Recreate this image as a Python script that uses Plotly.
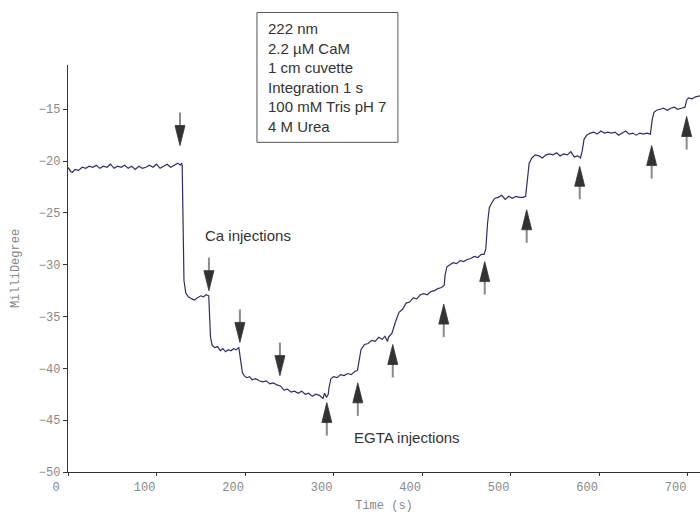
import plotly.graph_objects as go

# ---- data ----
time_s = [0, 3, 5, 8, 12, 16, 20, 24, 28, 32, 36, 40, 44, 48, 52, 56, 60, 64, 68, 72, 76, 80, 84, 88, 92, 96,
          100, 104, 108, 112, 116, 120, 124, 127, 128.5, 129, 130, 131, 133, 136, 140, 143, 146, 150, 153, 156,
          159, 160, 161, 163, 166, 169, 172, 175, 178, 181, 184, 187, 190, 193, 195, 197, 199, 202, 205, 208,
          212, 216, 220, 224, 228, 232, 236, 240, 244, 248, 252, 256, 260, 264, 268, 272, 276, 280, 284, 288,
          290, 292, 294, 295, 297, 300, 304, 308, 312, 316, 320, 324, 327, 329, 331, 335, 339, 343, 347, 351,
          355, 358, 361, 362, 364, 366, 370, 374, 378, 382, 386, 390, 394, 398, 402, 406, 410, 414, 418, 422,
          425, 426, 428, 431, 435, 439, 443, 447, 451, 455, 459, 463, 467, 470, 472, 474, 476, 479, 482, 486,
          490, 494, 498, 502, 506, 510, 514, 517, 519, 521, 524, 528, 532, 536, 540, 544, 548, 552, 556, 560,
          564, 568, 572, 576, 579, 581, 583, 586, 590, 594, 598, 602, 606, 610, 614, 618, 622, 626, 630, 634,
          638, 642, 646, 650, 654, 658, 660, 662, 665, 669, 673, 677, 681, 685, 689, 693, 697, 699, 701, 705,
          709, 714]
millideg = [-20.6, -21.0, -21.1, -20.8, -20.9, -20.6, -20.7, -20.5, -20.6, -20.4, -20.7, -20.5, -20.6, -20.3,
            -20.7, -20.5, -20.6, -20.4, -20.7, -20.5, -20.8, -20.5, -20.7, -20.6, -20.4, -20.6, -20.3, -20.7,
            -20.5, -20.3, -20.6, -20.4, -20.2, -20.4, -20.2, -20.4, -26.0, -31.5, -32.7, -33.1, -33.3, -33.4,
            -33.2, -33.0, -33.1, -32.9, -33.0, -35.0, -37.0, -37.8, -38.0, -37.9, -38.3, -38.1, -38.4, -38.2,
            -38.3, -38.1, -38.2, -38.0, -39.5, -40.4, -40.7, -40.9, -40.8, -41.1, -41.0, -41.2, -41.3, -41.2,
            -41.5, -41.4, -41.6, -41.7, -42.1, -42.0, -42.3, -42.2, -42.4, -42.2, -42.5, -42.4, -42.7, -42.5,
            -42.6, -42.9, -42.4, -42.8, -42.5, -41.8, -41.0, -40.8, -40.9, -40.6, -40.7, -40.5, -40.6, -40.3,
            -40.2, -39.0, -38.2, -37.7, -37.6, -37.3, -37.4, -37.0, -37.2, -36.9, -37.4, -37.0, -36.8, -36.6,
            -35.5, -34.6, -34.3, -33.7, -33.6, -33.2, -33.3, -32.9, -32.8, -32.9, -32.6, -32.5, -32.3, -32.2,
            -32.0, -31.0, -30.2, -30.0, -29.8, -29.9, -29.6, -29.7, -29.5, -29.4, -29.2, -29.3, -29.0, -29.0,
            -28.5, -26.0, -24.5, -24.0, -23.6, -23.5, -23.3, -23.7, -23.4, -23.6, -23.4, -23.5, -23.5, -23.4,
            -22.0, -20.2, -19.7, -19.4, -19.5, -19.7, -19.4, -19.3, -19.4, -19.2, -19.5, -19.3, -19.4, -19.1,
            -19.6, -19.5, -19.7, -19.0, -17.9, -17.5, -17.3, -17.2, -17.4, -17.1, -17.3, -17.2, -17.3, -17.2,
            -17.5, -17.3, -17.1, -17.4, -17.3, -17.5, -17.3, -17.4, -17.3, -17.4, -16.0, -15.3, -15.1, -15.0,
            -14.9, -15.1, -14.9, -14.8, -15.0, -14.9, -14.8, -14.1, -13.9, -14.0, -13.8, -13.7]

ca_time = [126.5, 159.2, 194.2, 239.4]
ca_tip = [-18.5, -32.5, -37.5, -40.7]
egta_time = [292.4, 327.4, 366.9, 424.5, 470.8, 518.2, 578.1, 659.4, 698.9]
egta_tip = [-43.3, -41.4, -37.7, -33.8, -29.7, -24.7, -20.5, -18.5, -15.7]

x_ticks = [0, 100, 200, 300, 400, 500, 600, 700]
y_ticks = [-50, -45, -40, -35, -30, -25, -20, -15]
info_lines = ["222 nm", "2.2 µM CaM", "1 cm cuvette", "Integration 1 s", "100 mM Tris pH 7", "4 M Urea"]

fig = go.Figure()
fig.add_trace(go.Scatter(x=time_s, y=millideg, mode="lines",
                         line=dict(color="#2e2e66", width=1.2), hoverinfo="skip", showlegend=False))

shapes = []
def arrow(t, tip, down):
    s = 1 if down else -1  # direction: shaft above tip for down arrows
    shapes.append(dict(type="line", xref="x", yref="y", xsizemode="pixel", ysizemode="pixel",
                       xanchor=t, yanchor=tip, x0=0, x1=0, y0=s * 18, y1=s * 33,
                       line=dict(color="#8a8a8a", width=2)))
    shapes.append(dict(type="path", xref="x", yref="y", xsizemode="pixel", ysizemode="pixel",
                       xanchor=t, yanchor=tip,
                       path=f"M -5 {s*20} L 5 {s*20} L 0 0 Z",
                       fillcolor="#333333", line=dict(color="#333333", width=0.8)))

for t, v in zip(ca_time, ca_tip):
    arrow(t, v, True)
for t, v in zip(egta_time, egta_tip):
    arrow(t, v, False)

# info box
shapes.append(dict(type="rect", xref="paper", yref="paper", x0=0.299, x1=0.522, y0=0.81, y1=1.129,
                   line=dict(color="#555555", width=1), fillcolor="rgba(0,0,0,0)"))

annos = [
    dict(text="<br>".join(info_lines), xref="paper", yref="paper", x=0.313, y=1.116,
         xanchor="left", yanchor="top", align="left", showarrow=False,
         font=dict(family="Liberation Sans, Arial", size=15, color="#333333")),
    dict(text="Ca injections", xref="x", yref="y", x=203, y=-27.2, showarrow=False,
         font=dict(family="Liberation Sans, Arial", size=15, color="#333333")),
    dict(text="EGTA injections", xref="x", yref="y", x=382.5, y=-46.7, showarrow=False,
         font=dict(family="Liberation Sans, Arial", size=15, color="#333333")),
]

mono = "Liberation Mono, Courier New, monospace"
fig.update_layout(
    width=700, height=513, margin=dict(l=68, r=0, t=65, b=38),
    plot_bgcolor="white", paper_bgcolor="white",
    shapes=shapes, annotations=annos,
    xaxis=dict(range=[0, 714], tickvals=x_ticks, ticks="outside", ticklen=3, tickcolor="#333",
               showline=True, linecolor="#333", linewidth=1.3, showgrid=False, zeroline=False,
               ticklabelshift=-12, tickfont=dict(family=mono, size=12, color="#888888"),
               title=dict(text="Time (s)", font=dict(family=mono, size=12, color="#888888"), standoff=10)),
    yaxis=dict(range=[-50, -10.73], tickvals=y_ticks, ticks="outside", ticklen=4, tickcolor="#333",
               showline=True, linecolor="#333", linewidth=1.3, showgrid=False, zeroline=False,
               tickfont=dict(family=mono, size=12, color="#888888"),
               title=dict(text="MilliDegree", font=dict(family=mono, size=12, color="#888888"), standoff=16)),
)
fig.write_html("out.html")
